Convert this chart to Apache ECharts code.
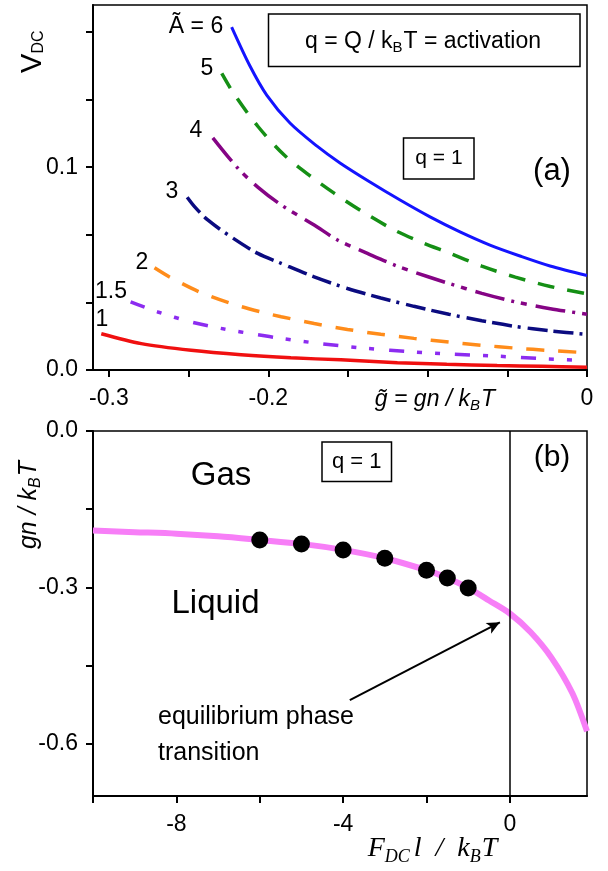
<!DOCTYPE html>
<html>
<head>
<meta charset="utf-8">
<script src="https://cdn.jsdelivr.net/npm/echarts@6/dist/echarts.min.js"></script>
<style>
html,body{margin:0;padding:0;background:#fff;}
#chart{width:608px;height:871px;}
</style>
</head>
<body>
<div id="chart"></div>
<script>
// ---------- Panel (a): V_DC vs g~ for several A~ (q = 1) ----------
const gA6  = [-0.2230,-0.2115,-0.2010,-0.1864,-0.1696,-0.1550,-0.1362,-0.1173,-0.0985,-0.0797,-0.0609,-0.0420,-0.0232,0];
const vA6  = [0.1691,0.1499,0.1356,0.1218,0.1105,0.1021,0.0927,0.0838,0.0755,0.0681,0.0616,0.0562,0.0513,0.0466];
const gA5  = [-0.2292,-0.2213,-0.2066,-0.1900,-0.1732,-0.1587,-0.1409,-0.1211,-0.1023,-0.0867,-0.0660,-0.0450,-0.0230,0];
const vA5  = [0.1463,0.1359,0.1202,0.1060,0.0954,0.0872,0.0781,0.0691,0.0625,0.0578,0.0512,0.0458,0.0412,0.0376];
const gA4  = [-0.2348,-0.2192,-0.2066,-0.1919,-0.1712,-0.1565,-0.1378,-0.1190,-0.1002,-0.0867,-0.0660,-0.0450,-0.0230,0];
const vA4  = [0.1145,0.0996,0.0902,0.0814,0.0715,0.0641,0.0575,0.0512,0.0461,0.0427,0.0378,0.0336,0.0302,0.0275];
const gA3  = [-0.2509,-0.2463,-0.2380,-0.2234,-0.2066,-0.1919,-0.1712,-0.1503,-0.1294,-0.1086,-0.0867,-0.0660,-0.0450,-0.0230,0];
const vA3  = [0.0852,0.0806,0.0740,0.0657,0.0575,0.0526,0.0459,0.0402,0.0355,0.0314,0.0275,0.0243,0.0215,0.0193,0.0176];
const gA2  = [-0.2714,-0.2620,-0.2432,-0.2234,-0.2025,-0.1919,-0.1712,-0.1503,-0.1294,-0.1086,-0.0867,-0.0660,-0.0450,-0.0230,0];
const vA2  = [0.0504,0.0459,0.0385,0.0328,0.0282,0.0263,0.0229,0.0200,0.0176,0.0156,0.0138,0.0122,0.0108,0.0096,0.0085];
const gA15 = [-0.2864,-0.2693,-0.2484,-0.2276,-0.2067,-0.1919,-0.1691,-0.1388,-0.1086,-0.0867,-0.0560,-0.0280,0];
const vA15 = [0.0336,0.0286,0.0237,0.0202,0.0174,0.0156,0.0132,0.0107,0.0089,0.0079,0.0068,0.0056,0.0047];
const gA1  = [-0.3048,-0.2797,-0.2484,-0.2171,-0.1858,-0.1545,-0.1190,-0.0880,-0.0564,-0.0280,0];
const vA1  = [0.0179,0.0130,0.0097,0.0075,0.0060,0.0050,0.0036,0.0028,0.0022,0.0018,0.0014];
const curveNames = ['Ã = 6','5','4','3','2','1.5','1'];

const xTicksA  = [-0.3,-0.25,-0.2,-0.15,-0.1,-0.05,0];
const xLabelsA = [-0.3,-0.2,0];
const xLabelTextA = ['-0.3','-0.2','0'];
const yTicksA  = [0,1/30,2/30,3/30,4/30,5/30];
const yLabelsA = [0,0.1];
const yLabelTextA = ['0.0','0.1'];

// ---------- Panel (b): phase boundary gn/kBT vs F_DC l/kBT ----------
const fLine  = [-10,-9,-8,-7,-6,-5,-4,-3,-2,-1.5,-1,-0.5,0,0.5,1.0,1.5,1.85];
const gnLine = [-0.191,-0.194,-0.197,-0.202,-0.209,-0.2165,-0.228,-0.244,-0.267,-0.282,-0.301,-0.325,-0.350,-0.386,-0.435,-0.503,-0.576];
const fDots  = [-6,-5,-4,-3,-2,-1.5,-1];
const gnDots = [-0.209,-0.2165,-0.228,-0.244,-0.267,-0.282,-0.301];
const arrowFrom = [-3.84,-0.516];
const arrowTo   = [-0.24,-0.367];

const xTicksB  = [-10,-8,-6,-4,-2,0];
const xLabelsB = [-8,-4,0];
const xLabelTextB = ['-8','-4','0'];
const yTicksB  = [0,-0.15,-0.3,-0.45,-0.6];
const yLabelsB = [0,-0.3,-0.6];
const yLabelTextB = ['0.0','-0.3','-0.6'];

// ---------- helpers ----------
const SANS = '"Liberation Sans", Arial, Helvetica, sans-serif';
const SERIF = '"Liberation Serif", "Times New Roman", serif';
const zip = (a,b) => a.map((v,i)=>[v,b[i]]);
const labelFor = (vals, texts) => v => {
  for (let i=0;i<vals.length;i++) if (Math.abs(vals[i]-v) < 1e-9) return texts[i];
  return '';
};
const mctx = document.createElement('canvas').getContext('2d');
function fontStr(p){ return (p.italic?'italic ':'') + p.size + 'px ' + (p.family||SANS); }
function measure(p){ mctx.font = fontStr(p); return mctx.measureText(p.text).width; }
function mixed(pieces, x, y, opt){
  opt = opt || {};
  let total = 0;
  const widths = pieces.map(p => { const w = measure(p) + (p.gap||0) + (p.pre||0); total += w; return w; });
  let cur = opt.left ? 0 : -total/2;
  const children = pieces.map((p,i) => {
    const el = {
      type:'text', x: cur + (p.pre||0), y: p.dy||0, z:20,
      style:{ text:p.text, font:fontStr(p), fill:'#000',
              textAlign:'left', align:'left', textVerticalAlign:'middle', verticalAlign:'middle' }
    };
    cur += widths[i];
    return el;
  });
  return { type:'group', x:x, y:y, z:20, rotation: opt.rotation||0, children: children };
}
function label(text, x, y, size, opt){
  opt = opt || {};
  return { type:'text', x:x, y:y, z:20,
    style:{ text:text, font:(opt.italic?'italic ':'') + size + 'px ' + (opt.family||SANS), fill:'#000',
            textAlign: opt.align||'center', align: opt.align||'center',
            textVerticalAlign:'middle', verticalAlign:'middle' } };
}
function box(x,y,w,h){
  return { type:'rect', shape:{x:x,y:y,width:w,height:h}, z:5,
           style:{ fill:'#fff', stroke:'#000', lineWidth:1.5 } };
}

const axisLine = { show:true, onZero:false, lineStyle:{ color:'#000', width:2 } };
const tickStyle = { show:true, inside:false, length:7, lineStyle:{ color:'#000', width:2 } };
const labStyle = { color:'#000', fontSize:23, fontFamily:SANS };

const chart = echarts.init(document.getElementById('chart'), null, { renderer:'canvas' });

const lineSeriesA = (name, g, v, color, type, width) => ({
  name, type:'line', xAxisIndex:0, yAxisIndex:0, data: zip(g,v),
  showSymbol:false, symbol:'none', smooth:0.3, silent:true, animation:false,
  lineStyle:{ color, width, type, cap:'butt' }
});

const option = {
  animation:false,
  backgroundColor:'#fff',
  grid:[
    { left:93, right:21, top:5, height:365, show:true, borderColor:'#000', borderWidth:1.5, backgroundColor:'transparent' },
    { left:93, right:21, top:431, height:365, show:true, borderColor:'#000', borderWidth:1.5, backgroundColor:'transparent' }
  ],
  xAxis:[
    { type:'value', gridIndex:0, min:-0.31, max:0, axisLine,
      axisTick:Object.assign({customValues:xTicksA}, tickStyle),
      axisLabel:Object.assign({customValues:xLabelsA, margin:17, formatter:labelFor(xLabelsA,xLabelTextA)}, labStyle),
      splitLine:{show:false} },
    { type:'value', gridIndex:1, min:-10, max:1.85, axisLine,
      axisTick:Object.assign({customValues:xTicksB}, tickStyle),
      axisLabel:Object.assign({customValues:xLabelsB, margin:17, formatter:labelFor(xLabelsB,xLabelTextB)}, labStyle),
      splitLine:{show:false} }
  ],
  yAxis:[
    { type:'value', gridIndex:0, min:0, max:0.18, axisLine,
      axisTick:Object.assign({customValues:yTicksA}, tickStyle),
      axisLabel:Object.assign({customValues:yLabelsA, margin:15, formatter:labelFor(yLabelsA,yLabelTextA)}, labStyle),
      splitLine:{show:false} },
    { type:'value', gridIndex:1, min:-0.7, max:0, axisLine,
      axisTick:Object.assign({customValues:yTicksB}, tickStyle),
      axisLabel:Object.assign({customValues:yLabelsB, margin:15, formatter:labelFor(yLabelsB,yLabelTextB)}, labStyle),
      splitLine:{show:false} }
  ],
  series:[
    lineSeriesA('A6',  gA6,  vA6,  '#1414ff', 'solid', 3),
    lineSeriesA('A5',  gA5,  vA5,  '#158f15', [17,13], 3.5),
    lineSeriesA('A4',  gA4,  vA4,  '#850485', [30,7,3,7,6,9], 3.5),
    lineSeriesA('A3',  gA3,  vA3,  '#0b0b80', [20,6,20,6,3,7], 3.5),
    lineSeriesA('A2',  gA2,  vA2,  '#ff8c1a', [18,14], 3.5),
    lineSeriesA('A1.5',gA15, vA15, '#8c2cf0', [15,13,5,13,5,15], 3.5),
    lineSeriesA('A1',  gA1,  vA1,  '#f01010', 'solid', 3.5),
    { name:'boundary', type:'line', xAxisIndex:1, yAxisIndex:1, data:zip(fLine,gnLine),
      showSymbol:false, symbol:'none', smooth:0.3, z:2,
      lineStyle:{ color:'#f77ef7', width:6 },
      markLine:{ silent:true, symbol:['none','arrow'], symbolSize:[9,13], animation:false,
        lineStyle:{ color:'#000', width:2, type:'solid' }, label:{show:false},
        data:[ [ {coord:arrowFrom}, {coord:arrowTo} ] ] } },
    { name:'sim', type:'scatter', xAxisIndex:1, yAxisIndex:1, data:zip(fDots,gnDots),
      symbol:'circle', symbolSize:17, itemStyle:{ color:'#000', opacity:1 }, z:4,
      markLine:{ silent:true, symbol:'none', animation:false,
        lineStyle:{ color:'#000', width:1.5, type:'solid' }, label:{show:false},
        data:[ {xAxis:0} ] } }
  ],
  graphic:[
    // panel (a) annotations
    box(268.5,14,311.5,52.5),
    mixed([{text:'q = Q / k',size:23},{text:'B',size:15,dy:6},{text:'T = activation',size:23,pre:1}], 423, 42),
    box(403.5,138,70.5,41),
    label('q = 1', 439, 158, 21),
    label('(a)', 552, 171, 31),
    label(curveNames[0], 196, 27, 23),
    label(curveNames[1], 207, 69, 23),
    label(curveNames[2], 196, 131, 23),
    label(curveNames[3], 172, 192, 23),
    label(curveNames[4], 142, 263, 23),
    label(curveNames[5], 111, 292, 23),
    label(curveNames[6], 102, 320, 23),
    // axis titles (a)
    mixed([{text:'V',size:29},{text:'DC',size:16,dy:6.5}], 32.5, 51.7, {rotation:Math.PI/2}),
    mixed([{text:'g\u0303 = gn / k',size:23,italic:true},{text:'B',size:15,italic:true,dy:6},{text:'T',size:23,italic:true,pre:1}], 435, 400),
    // panel (b) annotations
    box(322,442,69.5,39.5),
    label('q = 1', 356.7, 461.7, 22),
    label('(b)', 552, 458, 30),
    label('Gas', 221, 476, 33),
    label('Liquid', 215.5, 604, 33),
    label('equilibrium phase', 158, 717, 25, {align:'left'}),
    label('transition', 158, 753, 25, {align:'left'}),
    // axis titles (b)
    mixed([{text:'gn / k',size:25,italic:true},{text:'B',size:16,italic:true,dy:6.5},{text:'T',size:25,italic:true,pre:1}], 29, 505, {rotation:Math.PI/2}),
    mixed([{text:'F',size:28,italic:true,family:SERIF},{text:'DC',size:18,italic:true,family:SERIF,dy:8,gap:4},
           {text:'l  /  k',size:28,italic:true,family:SERIF},{text:'B',size:18,italic:true,family:SERIF,dy:8,gap:1},
           {text:'T',size:28,italic:true,family:SERIF}], 432.5, 849)
  ]
};
chart.setOption(option);
</script>
</body>
</html>
